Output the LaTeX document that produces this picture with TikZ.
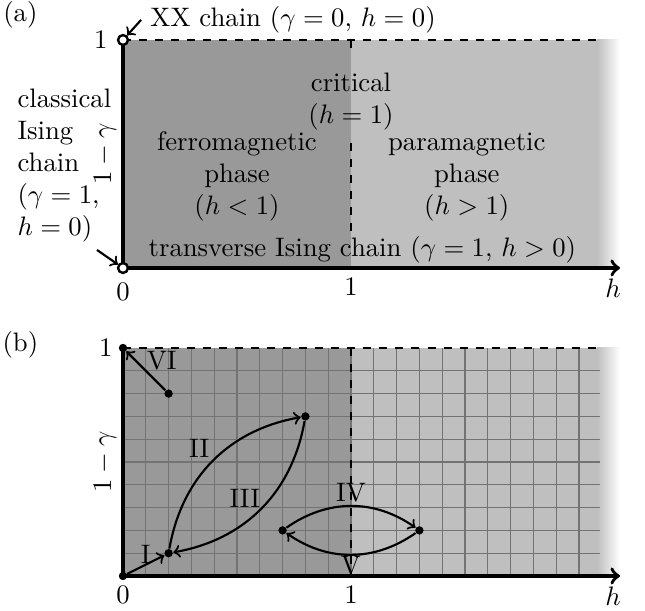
\documentclass[tikz,border=0pt]{standalone}
\usepackage{amsmath}

\begin{document}
\begin{tikzpicture}[
    x=3cm, y=3cm,
    ferro/.style={fill=black!40},
    para/.style={fill=black!25},
    fade/.style={left color=black!25, right color=white},
    axis/.style={line width=1.3pt},
    border/.style={thick, dashed},
    gridline/.style={black!55, line width=0.5pt},
    opendot/.style={
        circle,
        draw,
        fill=white,
        line width=0.9pt,
        minimum size=0.13cm,
        inner sep=0pt
    },
    dot/.style={
        circle,
        fill=black,
        minimum size=0.11cm,
        inner sep=0pt
    },
    arrow/.style={->, thick}
]
\useasboundingbox (-0.5395,-1.5044) rectangle (2.2895,1.1754);

% (a)
\fill[ferro] (0,0) rectangle (1,1);
\fill[para] (1,0) rectangle (2.08,1);
\shade[fade] (2.08,0) rectangle (2.18,1);
\draw[border] (0,1) -- (2.08,1);
\draw[border] (1,1) -- (1,0.96);
\draw[border] (1,0.55) -- (1,0.15);

\coordinate (aorig) at (0,0);
\coordinate (atop) at (0,1);
\coordinate (aend) at (2.18,0);
\draw[axis] (atop) -- (aorig);
\draw[axis,->] (aorig) -- (aend);

\node[opendot, label={[label distance=0pt]left:$1$}] (xxpt) at (0,1) {};
\node[opendot, label={[label distance=0pt]below:$0$}] (isingpt) at (0,0) {};
\node at (1,-0.085) {$1$};
\node at (2.15,-0.09) {$h$};
\node[rotate=90] at (-0.079,0.5) {$1-\gamma$};
\node at (-0.45,1.11) {(a)};

\node (xxlbl) at (0.746,1.088) {XX chain ($\gamma=0$, $h=0$)};
\node[align=left, anchor=west, inner sep=0pt] (classlbl) at (-0.465,0.45)
    {classical\\Ising\\chain\\($\gamma=1$,\\$h=0$)};
\coordinate (classend) at (-0.114,0.079);
\node[align=center] (critlbl) at (1,0.73) {critical\\($h=1$)};
\node[align=center] (ferrolbl) at (0.5,0.40) {ferromagnetic\\phase\\($h<1$)};
\node[align=center] (paralbl) at (1.508,0.40) {paramagnetic\\phase\\($h>1$)};
\node (translbl) at (1.05,0.079) {transverse Ising chain ($\gamma=1$, $h>0$)};

\draw[arrow] (xxlbl.west) -- (xxpt);
\draw[arrow] (classend) -- (isingpt);

% (b)
\begin{scope}[shift={(0,-1.3509)}]
\fill[ferro] (0,0) rectangle (1,1);
\fill[para] (1,0) rectangle (2.08,1);
\shade[fade] (2.08,0) rectangle (2.18,1);
\foreach \i in {1,...,20}
    \draw[gridline] (\i/10,0) -- (\i/10,1);
\foreach \j in {1,...,9}
    \draw[gridline] (0,\j/10) -- (2.09,\j/10);
\draw[border] (0,1) -- (2.08,1);
\draw[border] (1,1) -- (1,0);

\coordinate (borig) at (0,0);
\coordinate (btop) at (0,1);
\coordinate (bend) at (2.18,0);
\draw[axis] (btop) -- (borig);
\draw[axis,->] (borig) -- (bend);

\node at (-0.075,1) {$1$};
\node at (0,-0.085) {$0$};
\node at (1,-0.085) {$1$};
\node at (2.15,-0.09) {$h$};
\node[rotate=90] at (-0.079,0.5) {$1-\gamma$};
\node at (-0.45,1.013) {(b)};

\node[dot] (p0) at (0,0) {};
\node[dot] (pxx) at (0,1) {};
\node[dot] (p1) at (0.2,0.1) {};
\node[dot] (p2) at (0.8,0.7) {};
\node[dot] (p3) at (0.7,0.2) {};
\node[dot] (p4) at (1.3,0.2) {};
\node[dot] (p5) at (0.2,0.8) {};

\draw[arrow] (p0) -- node[midway, above, inner sep=0pt] {I} (p1);
\draw[arrow] (p1) to[bend left=35] node[midway, above left, inner sep=1pt] {II} (p2);
\draw[arrow] (p2) to[bend left=35] node[midway, above left, inner sep=0pt] {III} (p1);
\draw[arrow] (p3) to[bend left=35] node[midway, above, inner sep=1pt] {IV} (p4);
\draw[arrow] (p4) to[bend left=35] node[midway, below, inner sep=0pt] {V} (p3);
\draw[arrow] (p5) -- node[midway, above right, inner sep=0pt] {VI} (pxx);
\end{scope}

\end{tikzpicture}
\end{document}
